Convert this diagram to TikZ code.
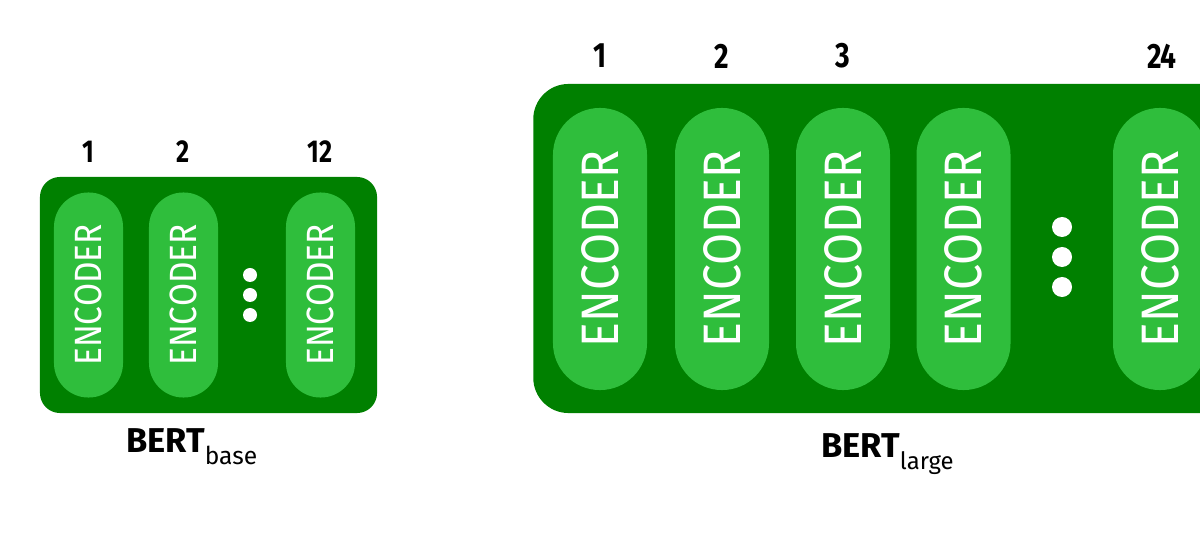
\documentclass[tikz,border=0pt]{standalone}
\usepackage{fontspec}
\setmainfont{Fira Sans}
\newfontfamily\numfont[FakeStretch=0.8]{Fira Sans}
\newfontfamily\encfont[FakeStretch=0.88]{Fira Sans}
\definecolor{outergreen}{HTML}{008000}
\definecolor{innergreen}{HTML}{2FBE3C}
\tikzset{
  stack/.style={fill=outergreen, draw=none},
  enc/.style={fill=innergreen, draw=none, rotate=90, inner sep=0pt, text=white},
  encsmall/.style={enc, minimum width=5.125cm, minimum height=1.725cm, rounded corners=0.86cm,
    font=\encfont\fontsize{27}{30}\selectfont},
  enclarge/.style={enc, minimum width=7.05cm, minimum height=2.35cm, rounded corners=1.17cm,
    font=\encfont\fontsize{37.5}{40}\selectfont},
  dot/.style={circle, fill=white, inner sep=0pt},
  num/.style={font=\numfont\bfseries\fontsize{22.5}{24}\selectfont},
  numlarge/.style={font=\numfont\bfseries\fontsize{25}{27}\selectfont},
  title/.style={anchor=base west, inner sep=0pt, font=\bfseries\fontsize{24.5}{26}\selectfont}
}
\begin{document}
\begin{tikzpicture}[x=0.025cm, y=-0.025cm]
\useasboundingbox (0,0) rectangle (1200,536);
\clip (0,0) rectangle (1200,536);
% BERT base
\node[stack, minimum width=8.425cm, minimum height=5.9cm, rounded corners=0.5cm] (base) at (208.5,295) {};
\node[encsmall] (b1) at (88.5,295) {ENCODER};
\node[encsmall] (b2) at (183.5,295) {ENCODER};
\node[encsmall] (b12) at (320.5,295) {ENCODER};
\foreach \y in {275,295,315}
  \node[dot, minimum size=0.35cm] at (250,\y) {};
\node[num] (n1) at (88,152) {1};
\node[num] (n2) at (183,152) {2};
\node[num] (n12) at (320,152) {12};
\node[title] (tb) at (126,452)
  {BERT\raisebox{-9pt}{\mdseries\fontsize{17.5}{19}\selectfont base}};
% BERT large
\node[stack, minimum width=17.7cm, minimum height=8.225cm, rounded corners=0.88cm, anchor=west] (large) at (533,248.5) {};
\node[enclarge] (l1) at (600,249) {ENCODER};
\node[enclarge] (l2) at (722,249) {ENCODER};
\node[enclarge] (l3) at (843,249) {ENCODER};
\node[enclarge] (l4) at (963.5,249) {ENCODER};
\node[enclarge] (l24) at (1160,249) {ENCODER};
\foreach \y in {227,257,287}
  \node[dot, minimum size=0.5cm] at (1062,\y) {};
\node[numlarge] (m1) at (600,56) {1};
\node[numlarge] (m2) at (722,56) {2};
\node[numlarge] (m3) at (843,56) {3};
\node[numlarge] (m24) at (1162,56) {24};
\node[title] (tl) at (821,457)
  {BERT\raisebox{-9pt}{\mdseries\fontsize{17}{19}\selectfont large}};
\end{tikzpicture}
\end{document}
